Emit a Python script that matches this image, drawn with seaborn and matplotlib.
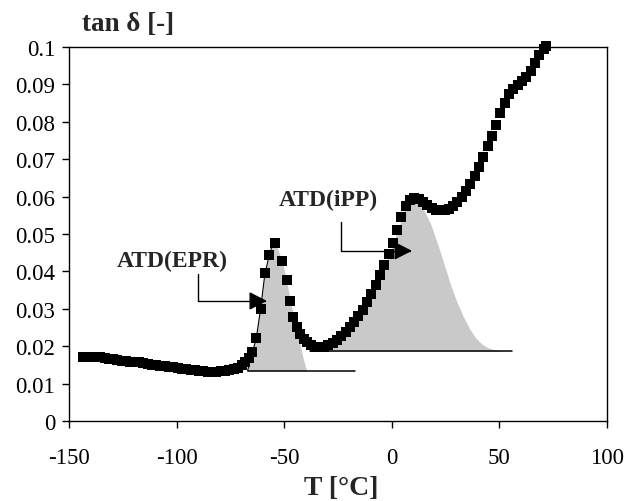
import matplotlib
matplotlib.use("Agg")
import matplotlib.pyplot as plt
import seaborn as sns
import pandas as pd

# Loss factor curve (temperature sweep)
temperature = [
    -143.5, -141.5, -139.5, -137.5, -135.5, -133.5, -131.5, -129.5, -127.5, -125.5,
    -123.5, -121.5, -119.5, -117.5, -115.5, -113.5, -111.5, -109.5, -107.5, -105.5,
    -103.5, -101.5, -99.5, -97.5, -95.5, -93.5, -91.5, -89.5, -87.5, -85.5,
    -83.5, -81.5, -79.5, -77.5, -75.5, -73.5, -71.5, -69.5, -68.0, -66.5,
    -65.0, -63.0, -61.0, -59.0, -57.0, -54.5, -50.8, -48.9, -47.3, -45.8,
    -44.2, -42.6, -41.0, -39.3, -37.5, -35.5, -33.5, -31.5, -29.5, -27.5,
    -25.5, -23.5, -21.5, -19.5, -17.5, -15.5, -13.5, -11.5, -9.5, -7.5,
    -5.5, -3.5, -1.5, 0.5, 2.5, 4.5, 6.5, 8.5, 10.5, 12.5,
    14.5, 16.5, 18.5, 20.5, 22.5, 24.5, 26.5, 28.5, 30.5, 32.5,
    34.5, 36.5, 38.5, 40.5, 42.5, 44.5, 46.5, 48.5, 50.5, 52.5,
    54.5, 56.5, 58.5, 60.5, 62.5, 64.5, 66.5, 68.5, 70.5, 71.5,
]
tan_delta = [
    0.0171, 0.0171, 0.0171, 0.0170, 0.0170, 0.0169, 0.0167, 0.0165, 0.0163, 0.0161,
    0.0160, 0.0159, 0.0158, 0.0157, 0.0155, 0.0153, 0.0151, 0.0149, 0.0147, 0.0146,
    0.0145, 0.0144, 0.0142, 0.0140, 0.0138, 0.0136, 0.0135, 0.0134, 0.0133, 0.0132,
    0.0132, 0.0132, 0.0133, 0.0134, 0.0135, 0.0138, 0.0143, 0.0150, 0.0157, 0.0168,
    0.0185, 0.0222, 0.0300, 0.0395, 0.0445, 0.0477, 0.0429, 0.0376, 0.0322, 0.0278,
    0.0250, 0.0232, 0.0220, 0.0211, 0.0204, 0.0199, 0.0197, 0.0198, 0.0203, 0.0209,
    0.0217, 0.0226, 0.0237, 0.0250, 0.0264, 0.0280, 0.0298, 0.0318, 0.0340, 0.0364,
    0.0390, 0.0418, 0.0447, 0.0477, 0.0510, 0.0545, 0.0574, 0.0591, 0.0597, 0.0594,
    0.0586, 0.0577, 0.0570, 0.0565, 0.0563, 0.0564, 0.0568, 0.0575, 0.0585, 0.0598,
    0.0614, 0.0634, 0.0656, 0.0680, 0.0706, 0.0734, 0.0763, 0.0792, 0.0823, 0.0851,
    0.0873, 0.0888, 0.0899, 0.0908, 0.0920, 0.0936, 0.0957, 0.0978, 0.0995, 0.1002,
]

# EPR relaxation peak area
epr_T = [-67.0, -65.0, -63.0, -61.0, -59.0, -57.0, -55.5, -54.5, -53.0, -51.0,
         -49.0, -47.0, -45.0, -43.0, -41.5, -40.3, -39.5]
epr_top = [0.0134, 0.0180, 0.0220, 0.0298, 0.0392, 0.0442, 0.0470, 0.0474, 0.0460, 0.0428,
           0.0378, 0.0318, 0.0262, 0.0215, 0.0175, 0.0148, 0.0134]
epr_base = 0.0134
epr_base_T = [-67.0, -17.0]

# iPP relaxation peak area
ipp_T = [-31.0, -27.0, -24.0, -21.0, -18.0, -15.0, -12.0, -9.0, -6.0, -3.0,
         0.0, 3.0, 6.0, 9.0, 12.0, 15.0, 18.0, 21.0, 24.0, 27.0,
         30.0, 33.0, 36.0, 39.0, 42.0, 45.0, 48.0, 51.0, 54.0]
ipp_top = [0.0187, 0.0205, 0.0222, 0.0238, 0.0258, 0.0282, 0.0310, 0.0342, 0.0375, 0.0412,
           0.0462, 0.0515, 0.0562, 0.0585, 0.0584, 0.0563, 0.0528, 0.0478, 0.0425, 0.0370,
           0.0322, 0.0282, 0.0248, 0.0222, 0.0205, 0.0195, 0.0190, 0.0187, 0.0186]
ipp_base = 0.0186
ipp_base_T = [-38.0, 56.0]

x_ticks = [-150, -100, -50, 0, 50, 100]
y_ticks = [0, 0.01, 0.02, 0.03, 0.04, 0.05, 0.06, 0.07, 0.08, 0.09, 0.1]
y_tick_labels = ["0", "0.01", "0.02", "0.03", "0.04", "0.05", "0.06", "0.07", "0.08", "0.09", "0.1"]

sns.set_style("ticks")
plt.rcParams["font.family"] = ["Liberation Serif", "DejaVu Serif"]
plt.rcParams["axes.linewidth"] = 1.0

fig = plt.figure(figsize=(6.29, 5.02), dpi=100)
ax = fig.add_axes([0.1097, 0.1594, 0.8553, 0.745])

fill_color = "#c9c9c9"
ax.fill_between(epr_T, epr_base, epr_top, color=fill_color, linewidth=0, zorder=1)
ax.fill_between(ipp_T, ipp_base, ipp_top, color=fill_color, linewidth=0, zorder=1)
ax.plot(epr_T[:8], epr_top[:8], color="black", lw=0.8, zorder=2)
ax.plot(epr_base_T, [epr_base, epr_base], color="black", lw=1.1, zorder=2)
ax.plot(ipp_base_T, [ipp_base, ipp_base], color="black", lw=1.1, zorder=2)

df = pd.DataFrame({"T": temperature, "tan_delta": tan_delta})
sns.scatterplot(data=df, x="T", y="tan_delta", marker="s", color="black",
                s=46, linewidth=0, ax=ax, zorder=3, clip_on=False)

arrow = dict(arrowstyle="-|>,head_length=0.55,head_width=0.28",
             connectionstyle="angle,angleA=90,angleB=0,rad=0",
             color="black", lw=1.0, mutation_scale=20, shrinkA=0, shrinkB=0)
ax.annotate("", xy=(-58.0, 0.0321), xytext=(-90.0, 0.0393), arrowprops=arrow, zorder=4)
ax.annotate("", xy=(9.4, 0.0455), xytext=(-23.6, 0.0532), arrowprops=arrow, zorder=4)
ax.text(-102.0, 0.0428, "ATD(EPR)", ha="center", va="center", fontsize=17, fontweight="bold")
ax.text(-29.4, 0.0592, "ATD(iPP)", ha="center", va="center", fontsize=17, fontweight="bold")

ax.set_xlim(-150, 100)
ax.set_ylim(0, 0.1)
ax.set_xticks(x_ticks)
ax.set_xticklabels([str(v) for v in x_ticks])
ax.set_yticks(y_ticks)
ax.set_yticklabels(y_tick_labels)
ax.tick_params(axis="both", direction="out", length=5, width=1.0, labelsize=16.5,
               colors="black", pad=5)
ax.tick_params(axis="x", pad=14)
for sp in ax.spines.values():
    sp.set_visible(True)
    sp.set_color("black")
ax.set_xlabel("")
ax.set_ylabel("")

fig.text(0.1304, 0.952, "tan δ [-]", ha="left", va="center", fontsize=19.5, fontweight="bold")
fig.text(0.542, 0.026, "T [°C]", ha="center", va="center", fontsize=20, fontweight="bold")

fig.savefig("out.png", dpi=100)
